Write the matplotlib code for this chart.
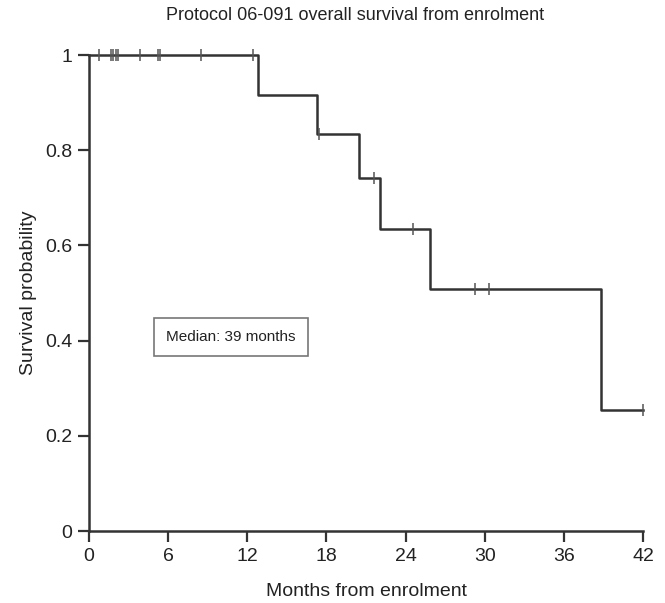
import numpy as np
import matplotlib
matplotlib.use("Agg")
import matplotlib.pyplot as plt

plt.rcParams['font.family'] = ['Liberation Sans', 'DejaVu Sans']

# ---------------- data ----------------
# step points of the Kaplan-Meier curve (months, survival after the drop)
event_times = [0.0, 12.8, 17.26, 20.47, 22.06, 25.88, 38.8]
surv_levels = [1.0, 0.917, 0.833, 0.741, 0.635, 0.508, 0.254]
end_time = 42.0

# censored observations (months)
censor_times = [0.78, 1.67, 1.84, 2.02, 2.2, 3.87, 5.2, 5.35, 8.5, 12.46,
                17.4, 21.6, 24.56, 29.3, 30.3, 42.0]

xticks = [0, 6, 12, 18, 24, 30, 36, 42]
yticks = [0, 0.2, 0.4, 0.6, 0.8, 1]
yticklabels = ["0", "0.2", "0.4", "0.6", "0.8", "1"]

# ---------------- plot ----------------
fig = plt.figure(figsize=(6.65, 6.03), dpi=100)
ax = fig.add_axes([89/665, 1-531/603, (643-89)/665, (531-55)/603])

col = "#333333"
xs = event_times + [end_time]
ys = surv_levels + [surv_levels[-1]]
ax.step(xs, ys, where="post", color=col, lw=1.8, clip_on=False, zorder=3)

# censor marks sit on the curve
idx = np.searchsorted(event_times, censor_times, side="right") - 1
cy = [surv_levels[i] for i in idx]
ax.plot(censor_times, cy, ls="none", marker="|", ms=9, mew=1.1,
        color="#555555", clip_on=False, zorder=4)

ax.set_xlim(0, 42)
ax.set_ylim(0, 1)
ax.set_xticks(xticks)
ax.set_yticks(yticks)
ax.set_yticklabels(yticklabels)
ax.tick_params(direction="out", length=8, width=1.6, color=col,
               labelsize=14, pad=4, labelcolor="#222222")
for s in ["top", "right"]:
    ax.spines[s].set_visible(False)
for s in ["left", "bottom"]:
    ax.spines[s].set_linewidth(1.8)
    ax.spines[s].set_color(col)

ax.set_xlabel("Months from enrolment", fontsize=14, labelpad=13, color="#222222")
ax.set_ylabel("Survival probability", fontsize=14, labelpad=6, color="#222222")
fig.text(355/665, 1-15/603, "Protocol 06-091 overall survival from enrolment",
         ha="center", va="center", fontsize=13, color="#222222")

ax.text(10.77, 0.4076, "Median: 39 months", ha="center", va="center",
        fontsize=11, color="#222222",
        bbox=dict(boxstyle="square,pad=0.8", fc="white", ec="#777777", lw=1.2))

fig.savefig("out.png", dpi=100)
